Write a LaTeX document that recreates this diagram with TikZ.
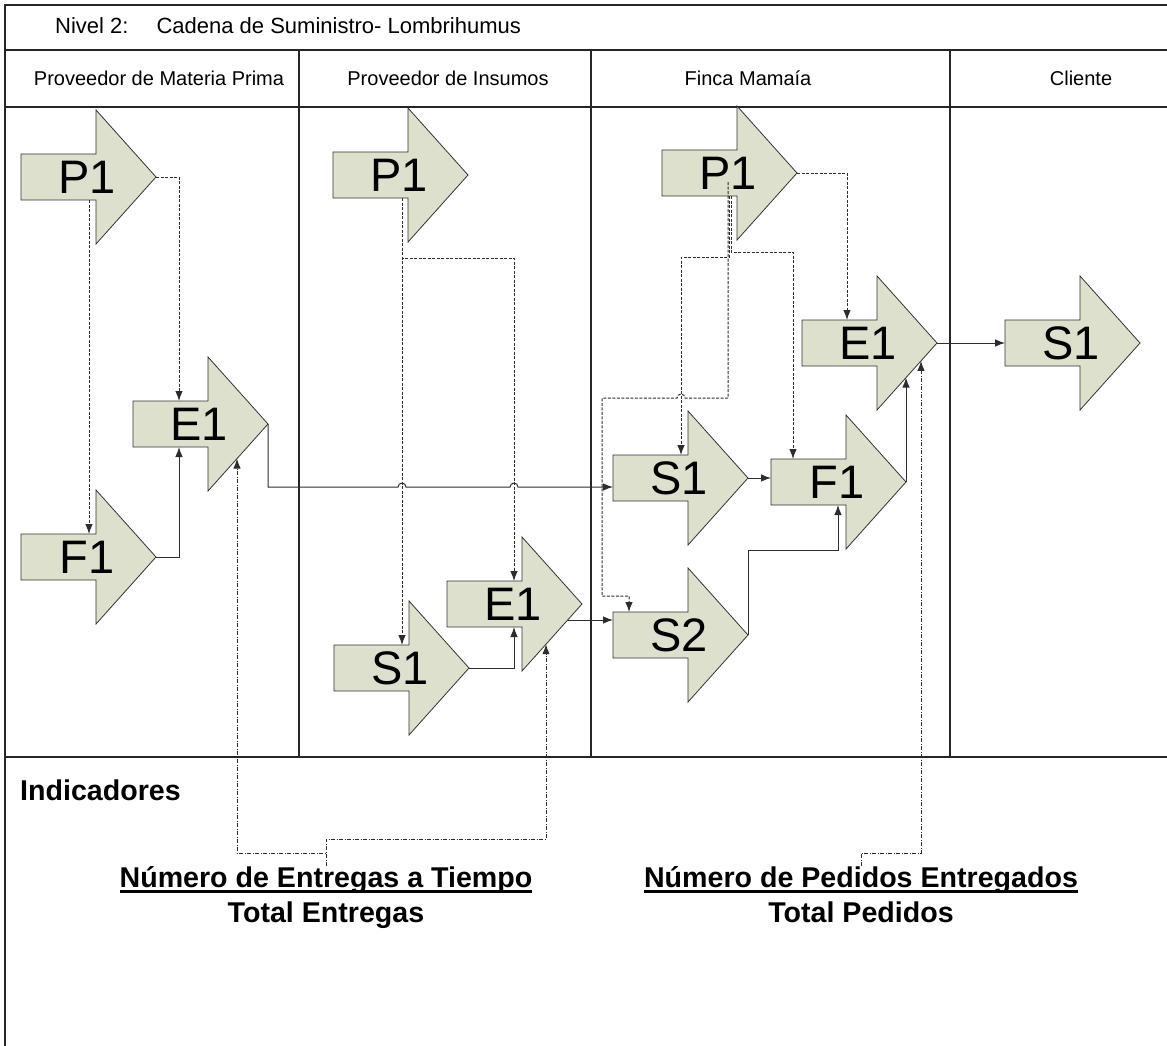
\documentclass[tikz,border=0pt]{standalone}
\usepackage{fontspec}
\setmainfont{Liberation Sans}
\usetikzlibrary{arrows.meta}

\definecolor{arrowfill}{RGB}{221,224,204}
\definecolor{linkgray}{RGB}{45,45,45}

% thick underline for the numerator of a ratio
\newsavebox\ulbox
\newcommand\thickul[1]{\sbox\ulbox{#1}\leavevmode\rlap{\vrule width\wd\ulbox height -2.6pt depth 5.4pt}\usebox\ulbox}

\tikzset{
  frame/.style={line width=1.3pt, draw=black!85},
  arrowbody/.style={draw=black!80, line width=0.8pt, fill=arrowfill, line join=miter},
  bodybox/.style={rectangle, minimum width=75pt, minimum height=46pt, inner sep=0pt, outer sep=0pt},
  biglabel/.style={font=\fontsize{47}{47}\selectfont, inner sep=0pt},
  flow/.style={draw=linkgray, line width=1pt, -{Latex[length=10pt,width=7.5pt]}},
  infolink/.style={flow, dash pattern=on 3pt off 1.5pt},
  measure/.style={flow, dash pattern=on 4pt off 1.5pt on 1pt off 1.5pt},
  titletext/.style={font=\fontsize{22}{24}\selectfont, inner sep=0pt},
  lanetext/.style={font=\fontsize{20}{24}\selectfont, inner sep=0pt},
  boldtext/.style={font=\bfseries\fontsize{28.6}{35}\selectfont, inner sep=0pt},
  ratio/.style={boldtext, align=center},
}

% block arrow: name, left x, centre y, label
\newcommand\blockarrow[4]{%
  \path[arrowbody] (#2,#3-23) -- ++(75,0) -- ++(0,-44) -- ++(60,67)
        -- ++(-60,67) -- ++(0,-44) -- ++(-75,0) -- cycle;
  \node[bodybox] (#1) at (#2+37.5,#3) {};
  \coordinate (#1-tip) at (#2+135,#3);
  \node[biglabel] (#1-label) at (#2+66,#3) {#4};
}

\begin{document}
\begin{tikzpicture}[x=1pt, y=-1pt]
\useasboundingbox (0,0) rectangle (1167,1046);

% frame, title row and swim lanes
\draw[frame] (1167,5) -- (5,5) -- (5,1046);
\draw[frame] (5,50) -- (1167,50);
\draw[frame] (5,107) -- (1167,107);
\draw[frame] (5,757) -- (1167,757);
\draw[frame] (299,50) -- (299,757);
\draw[frame] (591,50) -- (591,757);
\draw[frame] (950,50) -- (950,757);

\node[titletext, anchor=base west] (title) at (55,34)
  {Nivel 2:\hspace{28pt}Cadena de Suministro- Lombrihumus};
\node[lanetext, anchor=base] (lane1) at (159,86) {Proveedor de Materia Prima};
\node[lanetext, anchor=base] (lane2) at (448,86) {Proveedor de Insumos};
\node[lanetext, anchor=base] (lane3) at (748,86) {Finca Mamaía};
\node[lanetext, anchor=base] (lane4) at (1081,86) {Cliente};

% process blocks
\blockarrow{pa}{21}{177}{P1}
\blockarrow{ea}{133}{424}{E1}
\blockarrow{fa}{21}{557}{F1}

\blockarrow{pb}{333}{175}{P1}
\blockarrow{sb}{334}{668}{S1}
\blockarrow{eb}{447}{604}{E1}

\blockarrow{pc}{662}{173}{P1}
\blockarrow{ec}{802}{343}{E1}
\blockarrow{sc}{613}{478}{S1}
\blockarrow{fc}{771}{482}{F1}
\blockarrow{s2c}{613}{635}{S2}

\blockarrow{sd}{1005}{343}{S1}

% raw material supplier
\draw[infolink] (pa-tip) -| ([xshift=46pt]ea.north west);
\draw[infolink] ([xshift=68pt]pa.south west) -- ([xshift=68pt]fa.north west);
\draw[flow] (fa-tip) -| ([xshift=46pt]ea.south west);
\draw[flow] (ea-tip) |- (398,487) arc[start angle=180, end angle=0, radius=4pt]
  -- (510,487) arc[start angle=180, end angle=0, radius=4pt]
  -- ([yshift=-9pt]sc.west);

% input supplier
\draw[infolink] ([xshift=69pt]pb.south west) -- ([xshift=68pt]sb.north west);
\draw[infolink] ([xshift=69pt]pb.south west) -- ++(0,60) -| ([xshift=67pt]eb.north west);
\draw[flow] (sb-tip) -| ([xshift=67pt]eb.south west);
\draw[flow] ([shift={(-14.3pt,-16pt)}]eb-tip) -- ([yshift=15pt]s2c.west);

% farm
\draw[infolink] (pc-tip) -| ([xshift=45pt]ec.north west);
\draw[infolink] ([xshift=69pt]pc.south west) -- ++(0,56) -| ([xshift=22pt]fc.north west);
\draw[infolink] ([xshift=67pt]pc.south west) -- ++(0,61) -| ([xshift=68pt]sc.north west);
\draw[infolink] ([shift={(66pt,14pt)}]pc.south west) -- ++(0,216) -- ++(-43,0)
  arc[start angle=0, end angle=180, radius=4pt] -- ++(-75,0) -- ++(0,198)
  -| ([xshift=16pt]s2c.north west);
\draw[flow] (sc-tip) -- (sc-tip -| fc.west);
\draw[flow] (s2c-tip) -- ++(0,-85) -| ([xshift=67pt]fc.south west);
\draw[flow] (fc-tip) -- ([shift={(-31pt,-34.6pt)}]ec-tip);

% customer
\draw[flow] (ec-tip) -- (sd.west);

% indicators
\node[boldtext, anchor=base west] (ind) at (20,800) {Indicadores};
\node[ratio, anchor=north] (t1) at (326,866)
  {\thickul{Número de Entregas a Tiempo}\\Total Entregas};
\node[ratio, anchor=north] (t2) at (861,866)
  {\thickul{Número de Pedidos Entregados}\\Total Pedidos};

\draw[measure] (t1.north) -- ++(0,-13) -| ([shift={(-31pt,-34.6pt)}]ea-tip);
\draw[measure] (t1.north) -- ++(0,-27) -| ([shift={(-36pt,-40.2pt)}]eb-tip);
\draw[measure] (t2.north) -- ++(0,-13) -| ([shift={(-16pt,-17.9pt)}]ec-tip);
\end{tikzpicture}
\end{document}
